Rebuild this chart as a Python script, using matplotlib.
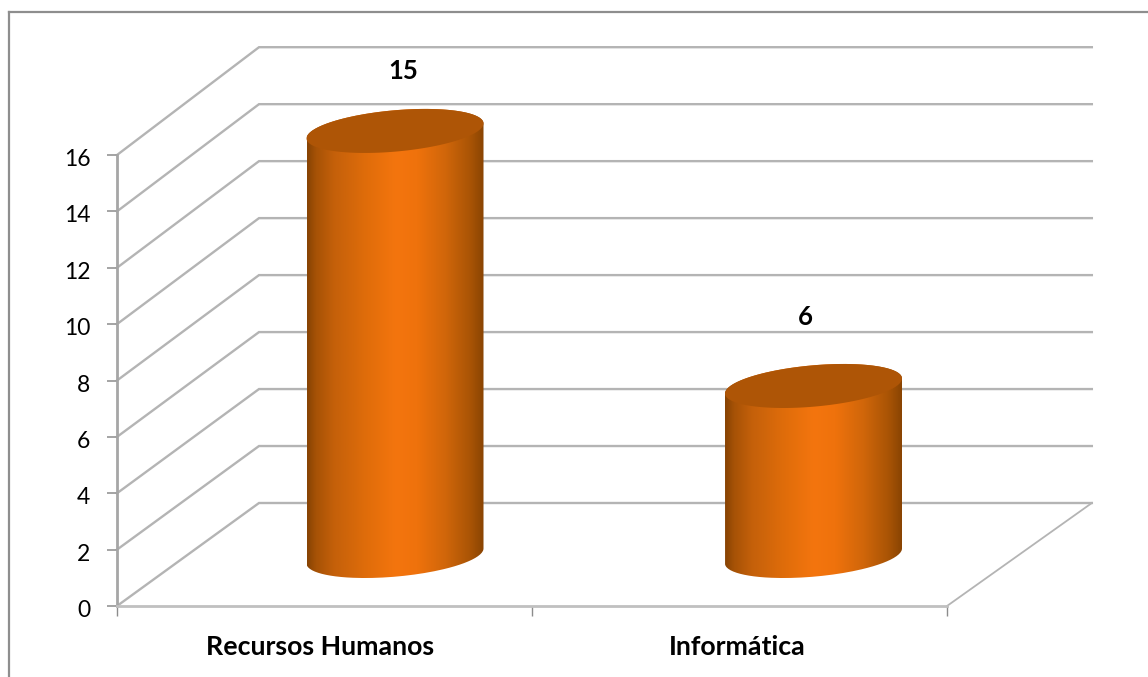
import numpy as np
import matplotlib
matplotlib.use("Agg")
import matplotlib.pyplot as plt
from matplotlib.path import Path
from matplotlib.patches import PathPatch
from matplotlib.lines import Line2D
from matplotlib.colors import LinearSegmentedColormap
from matplotlib.transforms import ScaledTranslation

categories = ["Recursos Humanos", "Informática"]
values = [15, 6]
y_ticks = [0, 2, 4, 6, 8, 10, 12, 14, 16]

W, H = 1148, 677
plt.rcParams["font.family"] = ["Lato", "DejaVu Sans"]
fig = plt.figure(figsize=(W / 100, H / 100), dpi=100, facecolor="white")

# plot frame in pixels
L, R, T, B = 117, 947, 155, 606
ax = fig.add_axes([L / W, 1 - B / H, (R - L) / W, (B - T) / H])
ax.set_xlim(0, len(categories))
ax.set_ylim(y_ticks[0], y_ticks[-1])
ax.set_facecolor("none")
px_x = (R - L) / len(categories)
px_y = (B - T) / (y_ticks[-1] - y_ticks[0])

depth_dx = 142 / px_x
depth_dy = 103 / px_y
back_scale = 57 / 56.4
mid_scale = (1 + back_scale) / 2

GRID = "#b4b4b4"
AXIS = "#a6a6a6"

# walls and floor
for v in y_ticks:
    back = depth_dy + v * back_scale
    ax.plot([0, depth_dx, len(categories) + depth_dx * 1.02], [v, back, back],
            color=GRID, lw=1.7, clip_on=False, zorder=1, solid_joinstyle="miter")
ax.plot([len(categories), len(categories) + depth_dx * 1.02], [0, depth_dy],
        color=GRID, lw=1.3, clip_on=False, zorder=1)

for s in ("top", "right"):
    ax.spines[s].set_visible(False)
ax.spines["left"].set_color(AXIS)
ax.spines["left"].set_linewidth(2.0)
ax.spines["bottom"].set_color("#c0c0c0")
ax.spines["bottom"].set_linewidth(2.0)

ax.set_yticks(y_ticks)
ax.set_yticklabels([str(v) for v in y_ticks])
ax.tick_params(axis="y", length=7.2, width=1.1, color="#8c8c8c", labelsize=16.5, pad=12, labelcolor="black")
down = ScaledTranslation(0, -2.5 / 100, fig.dpi_scale_trans)
for lab in ax.get_yticklabels():
    lab.set_transform(lab.get_transform() + down)
ax.set_xticks(np.arange(len(categories) + 1))
ax.set_xticklabels([])
ax.tick_params(axis="x", which="major", length=7.5, width=1.0, color="#8c8c8c")

# category labels sit slightly left of their slot centres
label_shift_px = [-4, -2]
ax.set_xticks(np.arange(len(categories)) + 0.5 + np.array(label_shift_px) / px_x, minor=True)
ax.set_xticklabels(categories, minor=True, fontweight="bold", fontsize=19.3)
ax.tick_params(axis="x", which="minor", length=0, pad=21)

# cylinders
stops = [(0, "#874303"), (0.05, "#a65206"), (0.15, "#c4600a"), (0.32, "#de6c0a"),
         (0.5, "#f4750e"), (0.62, "#ef720c"), (0.78, "#d0660a"), (0.92, "#a95405"), (1, "#874302")]
cmap = LinearSegmentedColormap.from_list("cyl", stops)
TOP = "#ae5506"
half_w = 88.5 / px_x
half_h = 20.7 / px_y
shear = 7.5 / px_y
bar_off_x = np.array([70.5, 74.0]) / px_x
base_y = 50 / px_y
t_up = np.linspace(0, np.pi, 80)
t_dn = np.linspace(np.pi, 2 * np.pi, 80)

def ring(cx, cy, t):
    return np.column_stack([cx + half_w * np.cos(t), cy + shear * np.cos(t) + half_h * np.sin(t)])

label_dx = [8 / px_x, -8 / px_x]
label_dy = [60 / px_y, 69 / px_y]

for i, v in enumerate(values):
    cx = i + 0.5 + bar_off_x[i]
    top = base_y + v * mid_scale
    body = np.vstack([ring(cx, top, t_up), ring(cx, base_y, t_dn)])
    im = ax.imshow(np.linspace(0, 1, 256)[None, :], cmap=cmap, aspect="auto",
                   extent=[cx - half_w, cx + half_w, base_y - 2, top + 2],
                   zorder=3, interpolation="bilinear")
    p = PathPatch(Path(body), transform=ax.transData, fc="none", ec="none")
    ax.add_patch(p)
    p.set_clip_on(False)
    im.set_clip_box(fig.bbox)
    im.set_clip_path(p)
    lid = np.vstack([ring(cx, top, t_up), ring(cx, top, t_dn)])
    ax.add_patch(PathPatch(Path(lid), fc=TOP, ec="none", zorder=4, clip_on=False))
    ax.text(cx + label_dx[i], top + label_dy[i], str(v), ha="center", va="center",
            fontweight="bold", fontsize=18.5, color="black", clip_on=False, zorder=5)

ax.set_xlim(0, len(categories))
ax.set_ylim(y_ticks[0], y_ticks[-1])

# outer frame: only the top and left edges are inside the crop
frame_x = 8.5 / W
frame_y = 1 - 11.5 / H
fig.add_artist(Line2D([frame_x, frame_x], [0, frame_y], color="#8e8e8e", lw=1.6, zorder=10))
fig.add_artist(Line2D([frame_x, 1], [frame_y, frame_y], color="#8e8e8e", lw=1.6, zorder=10))

fig.savefig("out.png", dpi=100, facecolor="white")
